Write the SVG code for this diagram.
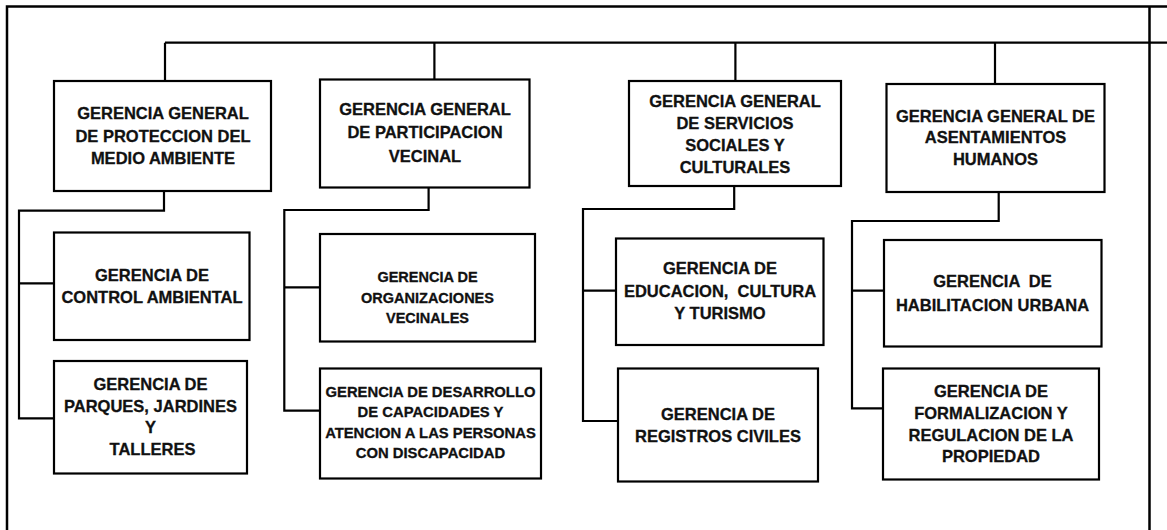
<svg xmlns="http://www.w3.org/2000/svg" width="1167" height="530" viewBox="0 0 1167 530">
<style>
.frame{fill:none;stroke:#000;stroke-width:2.5}
.box{fill:#fff;stroke:#000;stroke-width:2.2}
.conn{fill:none;stroke:#000;stroke-width:2.2}
text{font-family:"Liberation Sans",Arial,sans-serif;font-weight:bold;font-size:16.5px;fill:#111;stroke:#111;stroke-width:0.3;text-anchor:middle;white-space:pre}
.sm{font-size:14.5px}
.sm2{font-size:14.8px}
</style>
<rect width="1167" height="530" fill="#fff"/>
<g id="frame">
<path class="frame" d="M7,531 V6.5 H1167 M1149.5,6.5 V531"/>
</g>
<g id="connectors">
<path class="conn" d="M165,42.7 H1167 M165,42.7 V81 M434.4,42.7 V79.5 M735.4,42.7 V81 M995,42.7 V84"/>
<path class="conn" d="M164,190.7 V210.7 H19 V418.3 H54 M19,283.3 H54"/>
<path class="conn" d="M428.6,187.5 V210 H284.3 V410.7 H320 M284.3,287.3 H320"/>
<path class="conn" d="M734.2,186 V209 H583 V421 H618 M583,290.7 H616"/>
<path class="conn" d="M998.7,192.3 V221 H852 V408.3 H883 M852,290.7 H884"/>
</g>
<g id="gg-medio-ambiente">
<rect class="box" x="54" y="81" width="217" height="110"/>
<text x="163" y="119.3">GERENCIA GENERAL</text>
<text x="163" y="141.7">DE PROTECCION DEL</text>
<text x="163" y="164">MEDIO AMBIENTE</text>
</g>
<g id="gg-participacion">
<rect class="box" x="320" y="79.5" width="209.5" height="108"/>
<text x="425" y="115">GERENCIA GENERAL</text>
<text x="425" y="138.3">DE PARTICIPACION</text>
<text x="425" y="161.7">VECINAL</text>
</g>
<g id="gg-servicios">
<rect class="box" x="629" y="81" width="212" height="105"/>
<text x="735" y="106.7">GERENCIA GENERAL</text>
<text x="735" y="129">DE SERVICIOS</text>
<text x="735" y="151">SOCIALES Y</text>
<text x="735" y="172.7">CULTURALES</text>
</g>
<g id="gg-asentamientos">
<rect class="box" x="886.5" y="84" width="218" height="108"/>
<text x="995.5" y="121.7">GERENCIA GENERAL DE</text>
<text x="995.5" y="143.3">ASENTAMIENTOS</text>
<text x="995.5" y="165">HUMANOS</text>
</g>
<g id="g-control-ambiental">
<rect class="box" x="54" y="232.5" width="195.5" height="107.5"/>
<text x="152" y="280.7">GERENCIA DE</text>
<text x="152" y="302.7">CONTROL AMBIENTAL</text>
</g>
<g id="g-parques">
<rect class="box" x="54" y="361" width="193" height="112.5"/>
<text x="150.5" y="390">GERENCIA DE</text>
<text x="150.5" y="411.7">PARQUES, JARDINES</text>
<text x="150.5" y="433.3">Y</text>
<text x="152.5" y="455">TALLERES</text>
</g>
<g id="g-organizaciones">
<rect class="box" x="320" y="234" width="215" height="107.5"/>
<text class="sm" x="427.5" y="282">GERENCIA DE</text>
<text class="sm" x="427.5" y="302.7">ORGANIZACIONES</text>
<text class="sm" x="427.5" y="322.7">VECINALES</text>
</g>
<g id="g-desarrollo">
<rect class="box" x="320" y="368.5" width="221" height="110"/>
<text class="sm2" x="430.5" y="396.7">GERENCIA DE DESARROLLO</text>
<text class="sm2" x="430.5" y="417.3">DE CAPACIDADES Y</text>
<text class="sm2" x="430.5" y="437.5">ATENCION A LAS PERSONAS</text>
<text class="sm2" x="430.5" y="458.3">CON DISCAPACIDAD</text>
</g>
<g id="g-educacion">
<rect class="box" x="616" y="238.5" width="207.5" height="106.5"/>
<text x="720" y="274">GERENCIA DE</text>
<text x="720" y="297.3" xml:space="preserve">EDUCACION,  CULTURA</text>
<text x="720" y="319.3">Y TURISMO</text>
</g>
<g id="g-registros">
<rect class="box" x="618" y="368.5" width="200" height="113"/>
<text x="718" y="420">GERENCIA DE</text>
<text x="718" y="441.7">REGISTROS CIVILES</text>
</g>
<g id="g-habilitacion">
<rect class="box" x="884" y="240" width="217.5" height="106.5"/>
<text x="992.5" y="287.3" xml:space="preserve">GERENCIA  DE</text>
<text x="992.5" y="310.7">HABILITACION URBANA</text>
</g>
<g id="g-formalizacion">
<rect class="box" x="883" y="368.5" width="216" height="111"/>
<text x="991" y="396.7">GERENCIA DE</text>
<text x="991" y="419">FORMALIZACION Y</text>
<text x="991" y="441">REGULACION DE LA</text>
<text x="991" y="461.7">PROPIEDAD</text>
</g>
</svg>
